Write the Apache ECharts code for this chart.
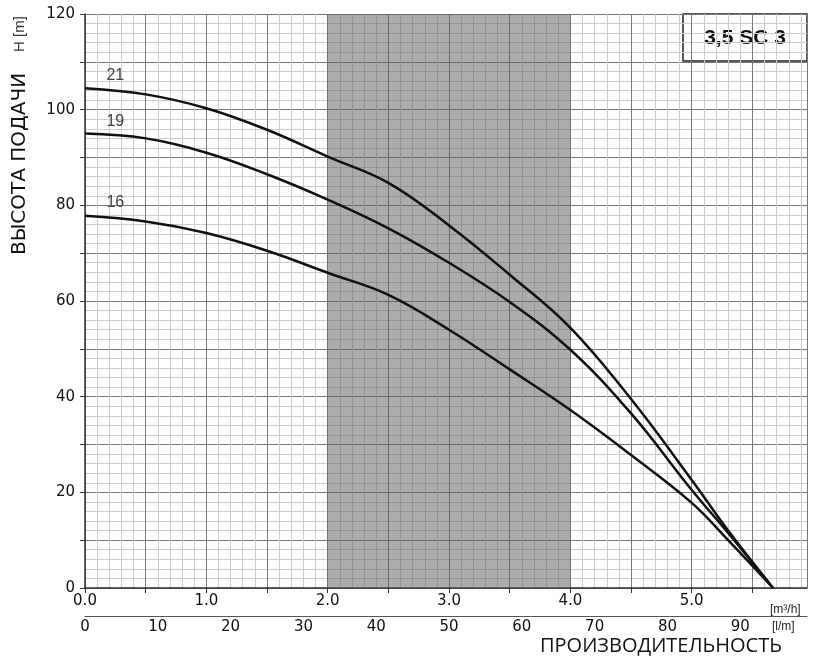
<!DOCTYPE html>
<html><head><meta charset="utf-8">
<script src="https://cdn.jsdelivr.net/npm/echarts@6/dist/echarts.min.js"></script>
<style>html,body{margin:0;background:#fff}#c{width:825px;height:665px}</style>
</head><body><div id="c"></div>
<script>
var flow=[0,0.5,1.0,1.5,2.0,2.5,3.0,3.5,4.0,4.5,5.0,5.3,5.67];
var h21=[104.5,103.2,100.3,95.8,90.2,84.7,75.8,65.5,54.4,39.5,22.6,12,0];
var h19=[95,94,91,86.5,81.2,75.2,68,59.8,49.8,36.5,20.5,11.5,0];
var h16=[77.8,76.6,74.2,70.5,65.9,61.3,54,45.7,37.2,27.8,17.8,10,0];
var names=['21','19','16'];
var band=[2.0,4.0];

var chart=echarts.init(document.getElementById('c'));
function pairs(a){return flow.map(function(x,i){return [x,a[i]];});}
function curve(n,a,ly){
  return {name:n,type:'line',smooth:0.4,symbol:'none',data:pairs(a),
    lineStyle:{color:'#111',width:2.5},
    markPoint:{symbol:'circle',symbolSize:1,itemStyle:{color:'transparent'},
      label:{show:true,formatter:n,color:'#444',fontSize:16,fontFamily:'Liberation Sans Narrow, Liberation Sans',position:'inside'},
      data:[{coord:[0.25,ly]}]}};
}
var s=[curve(names[0],h21,107.2),curve(names[1],h19,97.6),curve(names[2],h16,80.5)];
s[0].markArea={silent:true,itemStyle:{color:'rgba(90,90,90,0.5)'},data:[[{xAxis:band[0]},{xAxis:band[1]}]]};
var ax={fontFamily:'DejaVu Sans',fontSize:15,color:'#111'};
chart.setOption({
  animation:false,
  grid:{left:85,right:18,top:14,bottom:77},
  xAxis:[{type:'value',min:0,max:5.95,interval:0.5,
    axisLine:{lineStyle:{color:'#333',width:1.5}},axisTick:{length:5,lineStyle:{color:'#333'}},
    axisLabel:Object.assign({margin:6,showMaxLabel:false,formatter:function(v){return Math.abs(v-Math.round(v))<1e-6?v.toFixed(1):'';}},ax),
    splitLine:{show:true,lineStyle:{color:'#777',width:1}},
    minorTick:{show:false,splitNumber:5},minorSplitLine:{show:true,lineStyle:{color:'#ccc',width:1}}},
   {type:'value',position:'bottom',offset:28,min:0,max:5.95*1000/60,interval:10,
    axisLine:{lineStyle:{color:'#555'}},axisTick:{show:false},
    axisLabel:Object.assign({margin:4,showMaxLabel:false},ax),splitLine:{show:false}}],
  yAxis:{type:'value',min:0,max:120,interval:10,
    axisLine:{lineStyle:{color:'#333',width:1.5}},axisTick:{length:5,lineStyle:{color:'#333'}},
    axisLabel:Object.assign({margin:10,formatter:function(v){return v%20===0?v:'';}},ax),
    splitLine:{show:true,lineStyle:{color:'#777',width:1}},
    minorTick:{show:false,splitNumber:5},minorSplitLine:{show:true,lineStyle:{color:'#ccc',width:1}}},
  graphic:[
    {type:'rect',shape:{x:683,y:14,width:124,height:47},style:{fill:'#fff',stroke:'#222',lineWidth:1.5}},
    {type:'text',x:745,y:38,style:{text:'3,5 SC 3',fill:'#111',font:'bold 21px "Liberation Sans Narrow", "Liberation Sans"',align:'center',verticalAlign:'middle'}},
    {type:'text',x:20,y:255,rotation:Math.PI/2,style:{text:'ВЫСОТА ПОДАЧИ',fill:'#111',font:'20px "DejaVu Sans"',align:'left',verticalAlign:'middle'}},
    {type:'text',x:20,y:52,rotation:Math.PI/2,style:{text:'H [m]',fill:'#333',font:'15px "Liberation Sans"',align:'left',verticalAlign:'middle'}},
    {type:'text',x:770,y:604,style:{text:'[m³/h]',fill:'#222',font:'12px "Liberation Sans"'}},
    {type:'text',x:772,y:621,style:{text:'[l/m]',fill:'#222',font:'12px "Liberation Sans"'}},
    {type:'text',x:540,y:636,style:{text:'ПРОИЗВОДИТЕЛЬНОСТЬ',fill:'#111',font:'20px "Open Sans"'}}
  ],
  series:s
});
</script></body></html>
